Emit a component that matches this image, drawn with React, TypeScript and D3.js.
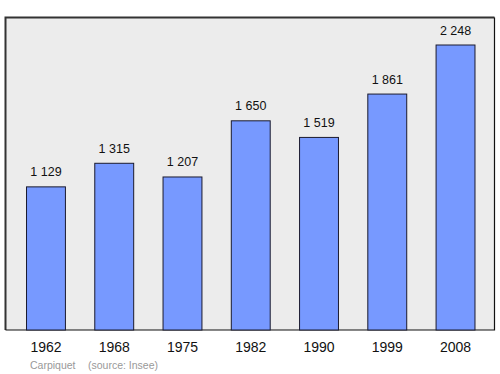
import React from "react";
import * as d3 from "d3";

const years = ["1962", "1968", "1975", "1982", "1990", "1999", "2008"];
const population = [1129, 1315, 1207, 1650, 1519, 1861, 2248];
const valueLabels = ["1 129", "1 315", "1 207", "1 650", "1 519", "1 861", "2 248"];
const townName = "Carpiquet";
const sourceText = "(source: Insee)";

export default function App() {
  const W = 500, H = 374;
  const box = { x0: 5.5, y0: 17.5, x1: 494.5, y1: 330 };
  const x = d3.scaleBand<string>().domain(years).range([11.5, 490]).paddingInner(0.43).paddingOuter(0.22);
  const y = d3.scaleLinear().domain([0, 2248]).range([330, 45]);
  const font = "'Liberation Sans', Arial, sans-serif";
  return (
    <svg width={W} height={H} style={{ position: "absolute", left: 0, top: 0 }}>
      <rect x={box.x0} y={box.y0} width={box.x1 - box.x0} height={box.y1 - box.y0} fill="#ececec" stroke="none" />
      <path d={`M${box.x0},${box.y1} V${box.y0} H${box.x1}`} fill="none" stroke="#333" strokeWidth={2} />
      <path d={`M${box.x1},${box.y0} V${box.y1} H${box.x0}`} fill="none" stroke="#111" strokeWidth={1.2} />
      {years.map((yr, i) => (
        <g key={yr}>
          <rect x={x(yr)!} y={y(population[i])} width={x.bandwidth()} height={330 - y(population[i])}
            fill="#7799ff" stroke="#1a1a2e" strokeWidth={1} />
          <text x={x(yr)! + x.bandwidth() / 2} y={y(population[i]) - 10.5} textAnchor="middle"
            fontFamily={font} fontSize={12.5} fill="#111">{valueLabels[i]}</text>
          <text x={x(yr)! + x.bandwidth() / 2} y={352} textAnchor="middle"
            fontFamily={font} fontSize={14} fill="#111">{yr}</text>
        </g>
      ))}
      <text x={30} y={369} fontFamily={font} fontSize={10.5} fill="#999">{townName}</text>
      <text x={88} y={369} fontFamily={font} fontSize={10.5} fill="#999">{sourceText}</text>
    </svg>
  );
}
